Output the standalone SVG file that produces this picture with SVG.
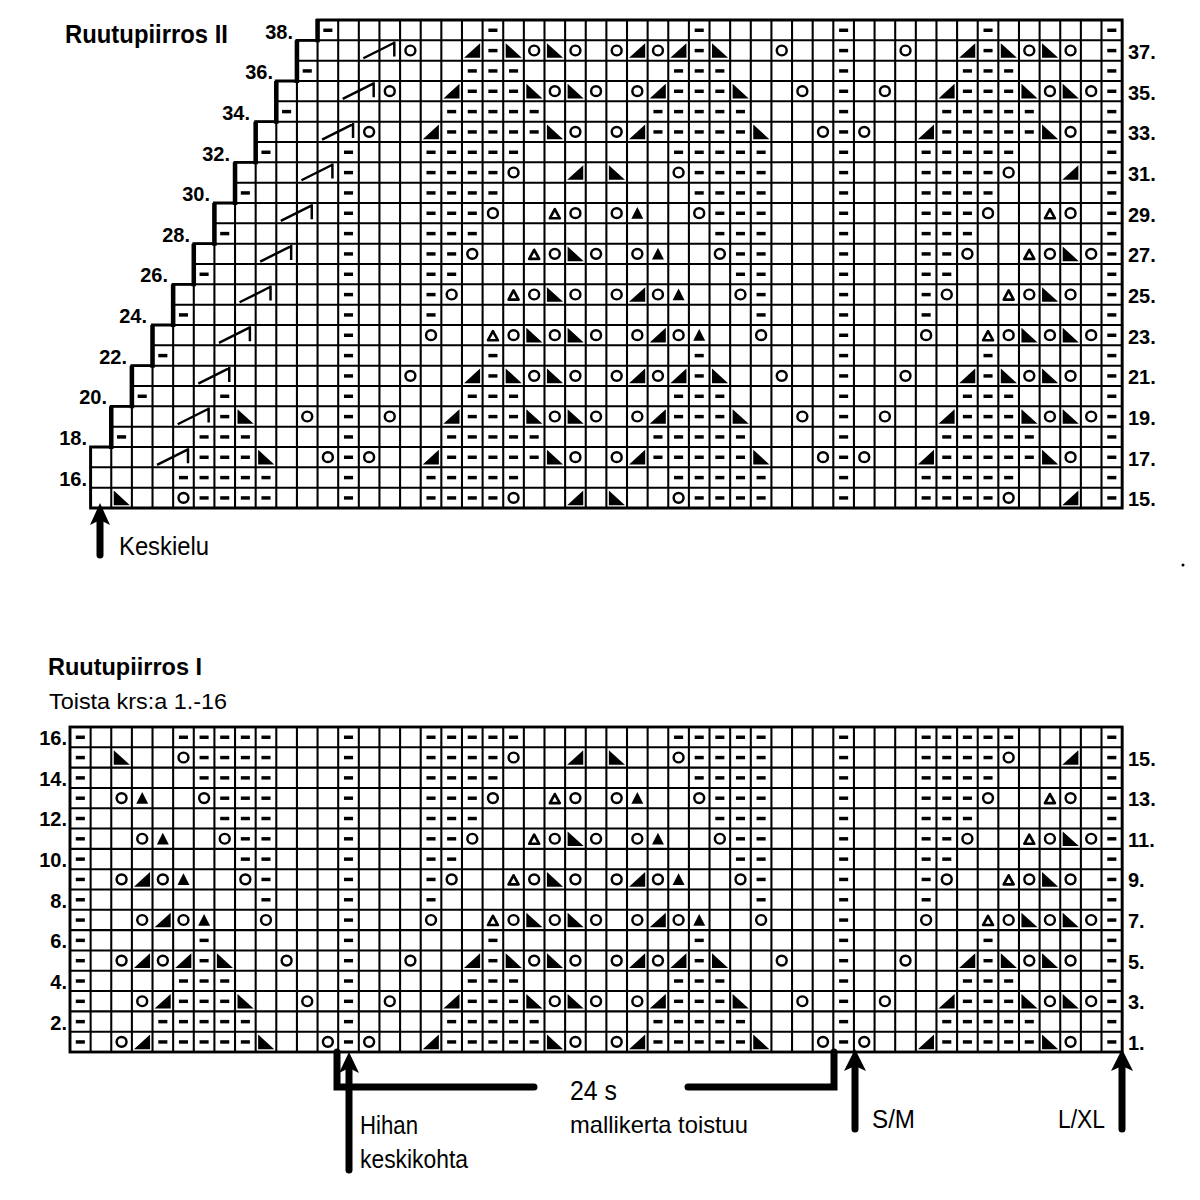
<svg xmlns="http://www.w3.org/2000/svg" width="1200" height="1200" viewBox="0 0 1200 1200">
<style>
.t{font-family:"Liberation Sans",Arial,sans-serif;fill:#000}
.b{font-weight:bold}
.n{font-family:"Liberation Sans",Arial,sans-serif;font-weight:bold;font-size:20px;fill:#000}
.gl{fill:none;stroke:#000;stroke-width:0.1}
.ob{fill:none;stroke:#000;stroke-width:0.14}
.th{fill:none;stroke:#000;stroke-width:0.22}
.ar{fill:none;stroke:#000;stroke-width:7;stroke-linecap:round}
</style>
<defs>
<rect id="d" x="0.28" y="0.42" width="0.44" height="0.17"/>
<circle id="o" cx="0.5" cy="0.5" r="0.24" fill="#fff" stroke="#000" stroke-width="0.12"/>
<path id="r" d="M0.1 0.86H0.88V0.14Z"/>
<path id="l" d="M0.12 0.14V0.86H0.9Z"/>
<path id="t" d="M0.5 0.2L0.79 0.78H0.21Z"/>
<path id="u" d="M0.5 0.3L0.74 0.75H0.26Z" fill="#fff" stroke="#000" stroke-width="0.13" stroke-linejoin="round"/>
<path id="g" d="M0.22 0.88L1.72 0.12M1.72 0.06V0.8" fill="none" stroke="#000" stroke-width="0.12"/>
<g id="d2"><use href="#d"/><use href="#d" x="1"/></g>
<g id="d3"><use href="#d2"/><use href="#d" x="2"/></g>
<g id="d4"><use href="#d3"/><use href="#d" x="3"/></g>
<g id="d5"><use href="#d4"/><use href="#d" x="4"/></g>
<g id="c8"><use href="#d"/><use href="#d" y="1"/><use href="#d" y="2"/><use href="#d" y="3"/><use href="#d" y="4"/><use href="#d" y="5"/><use href="#d" y="6"/><use href="#d" y="7"/></g>
<g id="c16"><use href="#c8"/><use href="#c8" y="8"/></g>
<g id="R1"><use href="#d" x="13"/><use href="#o" x="14"/><use href="#r" x="17"/><use href="#d5" x="18"/><use href="#l" x="23"/><use href="#o" x="24"/><use href="#o" x="26"/><use href="#r" x="27"/><use href="#d5" x="28"/><use href="#l" x="33"/><use href="#o" x="36"/></g>
<g id="R2"><use href="#d" x="13"/><use href="#d5" x="18"/><use href="#d5" x="28"/></g>
<g id="R3"><use href="#d" x="13"/><use href="#o" x="15"/><use href="#r" x="18"/><use href="#d3" x="19"/><use href="#l" x="22"/><use href="#o" x="23"/><use href="#l" x="24"/><use href="#o" x="25"/><use href="#o" x="27"/><use href="#r" x="28"/><use href="#d3" x="29"/><use href="#l" x="32"/><use href="#o" x="35"/></g>
<g id="R4"><use href="#d" x="13"/><use href="#d3" x="19"/><use href="#d3" x="29"/></g>
<g id="R5"><use href="#d" x="13"/><use href="#o" x="16"/><use href="#r" x="19"/><use href="#d" x="20"/><use href="#l" x="21"/><use href="#o" x="22"/><use href="#l" x="23"/><use href="#o" x="24"/><use href="#o" x="26"/><use href="#r" x="27"/><use href="#o" x="28"/><use href="#r" x="29"/><use href="#d" x="30"/><use href="#l" x="31"/><use href="#o" x="34"/></g>
<g id="R6"><use href="#d" x="13"/><use href="#d" x="20"/><use href="#d" x="30"/></g>
<g id="R7"><use href="#d" x="13"/><use href="#o" x="17"/><use href="#u" x="20"/><use href="#o" x="21"/><use href="#l" x="22"/><use href="#o" x="23"/><use href="#l" x="24"/><use href="#o" x="25"/><use href="#o" x="27"/><use href="#r" x="28"/><use href="#o" x="29"/><use href="#t" x="30"/><use href="#o" x="33"/></g>
<g id="R8"><use href="#d" x="13"/><use href="#d" x="17"/><use href="#d" x="33"/></g>
<g id="R9"><use href="#d" x="13"/><use href="#d" x="17"/><use href="#o" x="18"/><use href="#u" x="21"/><use href="#o" x="22"/><use href="#l" x="23"/><use href="#o" x="24"/><use href="#o" x="26"/><use href="#r" x="27"/><use href="#o" x="28"/><use href="#t" x="29"/><use href="#o" x="32"/><use href="#d" x="33"/></g>
<g id="R10"><use href="#d" x="13"/><use href="#d2" x="17"/><use href="#d2" x="32"/></g>
<g id="R11"><use href="#d" x="13"/><use href="#d2" x="17"/><use href="#o" x="19"/><use href="#u" x="22"/><use href="#o" x="23"/><use href="#l" x="24"/><use href="#o" x="25"/><use href="#o" x="27"/><use href="#t" x="28"/><use href="#o" x="31"/><use href="#d2" x="32"/></g>
<g id="R12"><use href="#d" x="13"/><use href="#d3" x="17"/><use href="#d3" x="31"/></g>
<g id="R13"><use href="#d" x="13"/><use href="#d3" x="17"/><use href="#o" x="20"/><use href="#u" x="23"/><use href="#o" x="24"/><use href="#o" x="26"/><use href="#t" x="27"/><use href="#o" x="30"/><use href="#d3" x="31"/></g>
<g id="R14"><use href="#d" x="13"/><use href="#d4" x="17"/><use href="#d4" x="30"/></g>
<g id="R15"><use href="#d" x="13"/><use href="#d4" x="17"/><use href="#o" x="21"/><use href="#r" x="24"/><use href="#l" x="26"/><use href="#o" x="29"/><use href="#d4" x="30"/></g>
<g id="R16"><use href="#d" x="13"/><use href="#d5" x="17"/><use href="#d5" x="29"/></g>
<clipPath id="cA"><rect x="2" y="-1" width="48" height="30"/></clipPath>
<clipPath id="cB"><rect x="6" y="-1" width="44" height="30"/></clipPath>
<clipPath id="cC"><rect x="7" y="-1" width="43" height="30"/></clipPath>
<clipPath id="cD"><rect x="13" y="-1" width="37" height="30"/></clipPath>
<clipPath id="cE"><rect x="14" y="-1" width="36" height="30"/></clipPath>
<clipPath id="cF"><rect x="15" y="-1" width="35" height="30"/></clipPath>
<clipPath id="cG"><rect x="16" y="-1" width="34" height="30"/></clipPath>
</defs>
<rect width="1200" height="1200" fill="#fff"/>

<!-- Chart II (top) -->
<g id="chart2" transform="translate(70 20) scale(20.63 20.3333)">
<path class="gl" d="M12 0H51M11 1H51M11 2H51M10 3H51M10 4H51M9 5H51M9 6H51M8 7H51M8 8H51M7 9H51M7 10H51M6 11H51M6 12H51M5 13H51M5 14H51M4 15H51M4 16H51M3 17H51M3 18H51M2 19H51M2 20H51M1 21H51M1 22H51M1 23H51M1 24H51"/>
<path class="gl" d="M1 21V24M2 19V24M3 17V24M4 15V24M5 13V24M6 11V24M7 9V24M8 7V24M9 5V24M10 3V24M11 1V24M12 0V24M13 0V24M14 0V24M15 0V24M16 0V24M17 0V24M18 0V24M19 0V24M20 0V24M21 0V24M22 0V24M23 0V24M24 0V24M25 0V24M26 0V24M27 0V24M28 0V24M29 0V24M30 0V24M31 0V24M32 0V24M33 0V24M34 0V24M35 0V24M36 0V24M37 0V24M38 0V24M39 0V24M40 0V24M41 0V24M42 0V24M43 0V24M44 0V24M45 0V24M46 0V24M47 0V24M48 0V24M49 0V24M50 0V24M51 0V24"/>
<path class="ob" d="M1 24V21H2V19H3V17H4V15H5V13H6V11H7V9H8V7H9V5H10V3H11V1H12V0H51V24Z"/>
<path class="th" d="M2 19V21.1M3 17V19.1M4 15V17.1M5 13V15.1M6 11V13.1M7 9V11.1M8 7V9.1M9 5V7.1M10 3V5.1M11 1V3.1M12 -0.05V1.1"/>
<g clip-path="url(#cA)">
<use href="#R15" x="-24" y="23"/><use href="#R15" y="23"/><use href="#R15" x="24" y="23"/>
<use href="#R16" x="-24" y="22"/><use href="#R16" y="22"/><use href="#R16" x="24" y="22"/>
</g>
<g clip-path="url(#cB)">
<use href="#R1" x="-24" y="21"/><use href="#R1" y="21"/><use href="#R1" x="24" y="21"/>
<use href="#R2" x="-24" y="20"/><use href="#R2" y="20"/><use href="#R2" x="24" y="20"/>
</g>
<g clip-path="url(#cC)">
<use href="#R3" x="-24" y="19"/><use href="#R3" y="19"/><use href="#R3" x="24" y="19"/>
<use href="#R4" x="-24" y="18"/><use href="#R4" y="18"/><use href="#R4" x="24" y="18"/>
</g>
<g clip-path="url(#cD)">
<use href="#R5" y="17"/><use href="#R5" x="24" y="17"/>
<use href="#R6" y="16"/><use href="#R6" x="24" y="16"/>
<use href="#R7" y="15"/><use href="#R7" x="24" y="15"/>
<use href="#R8" y="14"/><use href="#R8" x="24" y="14"/>
<use href="#R9" y="13"/><use href="#R9" x="24" y="13"/>
<use href="#R10" y="12"/><use href="#R10" x="24" y="12"/>
<use href="#R11" y="11"/><use href="#R11" x="24" y="11"/>
<use href="#R12" y="10"/><use href="#R12" x="24" y="10"/>
<use href="#R13" y="9"/><use href="#R13" x="24" y="9"/>
<use href="#R14" y="8"/><use href="#R14" x="24" y="8"/>
<use href="#R15" y="7"/><use href="#R15" x="24" y="7"/>
<use href="#R16" y="6"/><use href="#R16" x="24" y="6"/>
</g>
<g clip-path="url(#cE)">
<use href="#R1" y="5"/><use href="#R1" x="24" y="5"/>
<use href="#R2" y="4"/><use href="#R2" x="24" y="4"/>
<use href="#R4" y="2"/><use href="#R4" x="24" y="2"/>
<use href="#R6" y="0"/><use href="#R6" x="24" y="0"/>
</g>
<g clip-path="url(#cF)"><use href="#R3" y="3"/><use href="#R3" x="24" y="3"/></g>
<g clip-path="url(#cG)"><use href="#R5" y="1"/><use href="#R5" x="24" y="1"/></g>
<use href="#c16" x="50"/><use href="#c8" x="50" y="16"/>
<use href="#d" x="2" y="20"/><use href="#d" x="3" y="18"/><use href="#d" x="4" y="16"/><use href="#d" x="5" y="14"/><use href="#d" x="6" y="12"/><use href="#d" x="7" y="10"/><use href="#d" x="8" y="8"/><use href="#d" x="9" y="6"/><use href="#d" x="10" y="4"/><use href="#d" x="11" y="2"/><use href="#d" x="12" y="0"/>
<use href="#g" x="4" y="21"/><use href="#g" x="5" y="19"/><use href="#g" x="6" y="17"/><use href="#g" x="7" y="15"/><use href="#g" x="8" y="13"/><use href="#g" x="9" y="11"/><use href="#g" x="10" y="9"/><use href="#g" x="11" y="7"/><use href="#g" x="12" y="5"/><use href="#g" x="13" y="3"/><use href="#g" x="14" y="1"/>
</g>

<!-- Chart I (bottom) -->
<g id="chart1" transform="translate(70 727) scale(20.63 20.3125)">
<path class="gl" d="M0 0H51M0 1H51M0 2H51M0 3H51M0 4H51M0 5H51M0 6H51M0 7H51M0 8H51M0 9H51M0 10H51M0 11H51M0 12H51M0 13H51M0 14H51M0 15H51M0 16H51"/>
<path class="gl" d="M0 0V16M1 0V16M2 0V16M3 0V16M4 0V16M5 0V16M6 0V16M7 0V16M8 0V16M9 0V16M10 0V16M11 0V16M12 0V16M13 0V16M14 0V16M15 0V16M16 0V16M17 0V16M18 0V16M19 0V16M20 0V16M21 0V16M22 0V16M23 0V16M24 0V16M25 0V16M26 0V16M27 0V16M28 0V16M29 0V16M30 0V16M31 0V16M32 0V16M33 0V16M34 0V16M35 0V16M36 0V16M37 0V16M38 0V16M39 0V16M40 0V16M41 0V16M42 0V16M43 0V16M44 0V16M45 0V16M46 0V16M47 0V16M48 0V16M49 0V16M50 0V16M51 0V16"/>
<rect class="ob" x="0" y="0" width="51" height="16"/>
<g clip-path="url(#cA)">
<use href="#R1" x="-24" y="15"/><use href="#R1" y="15"/><use href="#R1" x="24" y="15"/>
<use href="#R2" x="-24" y="14"/><use href="#R2" y="14"/><use href="#R2" x="24" y="14"/>
<use href="#R3" x="-24" y="13"/><use href="#R3" y="13"/><use href="#R3" x="24" y="13"/>
<use href="#R4" x="-24" y="12"/><use href="#R4" y="12"/><use href="#R4" x="24" y="12"/>
<use href="#R5" x="-24" y="11"/><use href="#R5" y="11"/><use href="#R5" x="24" y="11"/>
<use href="#R6" x="-24" y="10"/><use href="#R6" y="10"/><use href="#R6" x="24" y="10"/>
<use href="#R7" x="-24" y="9"/><use href="#R7" y="9"/><use href="#R7" x="24" y="9"/>
<use href="#R8" x="-24" y="8"/><use href="#R8" y="8"/><use href="#R8" x="24" y="8"/>
<use href="#R9" x="-24" y="7"/><use href="#R9" y="7"/><use href="#R9" x="24" y="7"/>
<use href="#R10" x="-24" y="6"/><use href="#R10" y="6"/><use href="#R10" x="24" y="6"/>
<use href="#R11" x="-24" y="5"/><use href="#R11" y="5"/><use href="#R11" x="24" y="5"/>
<use href="#R12" x="-24" y="4"/><use href="#R12" y="4"/><use href="#R12" x="24" y="4"/>
<use href="#R13" x="-24" y="3"/><use href="#R13" y="3"/><use href="#R13" x="24" y="3"/>
<use href="#R14" x="-24" y="2"/><use href="#R14" y="2"/><use href="#R14" x="24" y="2"/>
<use href="#R15" x="-24" y="1"/><use href="#R15" y="1"/><use href="#R15" x="24" y="1"/>
<use href="#R16" x="-24" y="0"/><use href="#R16" y="0"/><use href="#R16" x="24" y="0"/>
</g>
<use href="#c16" x="0"/><use href="#c16" x="50"/>
</g>

<!-- Labels -->
<g id="labels2">
<text class="t b" x="65" y="43" font-size="26" textLength="163" lengthAdjust="spacingAndGlyphs">Ruutupiirros II</text>
<g class="n" text-anchor="end">
<text x="293" y="39">38.</text><text x="273" y="79">36.</text><text x="250" y="120">34.</text><text x="230" y="161">32.</text><text x="210" y="201">30.</text><text x="190" y="242">28.</text><text x="168" y="282">26.</text><text x="147" y="323">24.</text><text x="127" y="364">22.</text><text x="107" y="404">20.</text><text x="87" y="445">18.</text><text x="87" y="486">16.</text>
</g>
<g class="n">
<text x="1128" y="59">37.</text><text x="1128" y="100">35.</text><text x="1128" y="140">33.</text><text x="1128" y="181">31.</text><text x="1128" y="222">29.</text><text x="1128" y="262">27.</text><text x="1128" y="303">25.</text><text x="1128" y="344">23.</text><text x="1128" y="384">21.</text><text x="1128" y="425">19.</text><text x="1128" y="466">17.</text><text x="1128" y="506">15.</text>
</g>
<text class="t" x="119" y="555" font-size="26" textLength="90" lengthAdjust="spacingAndGlyphs">Keskielu</text>
</g>

<g id="labels1">
<text class="t b" x="48" y="675" font-size="23.5" textLength="154" lengthAdjust="spacingAndGlyphs">Ruutupiirros I</text>
<text class="t" x="49" y="709" font-size="22" textLength="178" lengthAdjust="spacingAndGlyphs">Toista krs:a 1.-16</text>
<g class="n" text-anchor="end">
<text x="67" y="745">16.</text><text x="67" y="786">14.</text><text x="67" y="826">12.</text><text x="67" y="867">10.</text><text x="67" y="908">8.</text><text x="67" y="948">6.</text><text x="67" y="989">4.</text><text x="67" y="1030">2.</text>
</g>
<g class="n">
<text x="1128" y="766">15.</text><text x="1128" y="806">13.</text><text x="1128" y="847">11.</text><text x="1128" y="887">9.</text><text x="1128" y="928">7.</text><text x="1128" y="969">5.</text><text x="1128" y="1009">3.</text><text x="1128" y="1050">1.</text>
</g>
<text class="t" x="570" y="1100" font-size="28" textLength="47" lengthAdjust="spacingAndGlyphs">24 s</text>
<text class="t" x="570" y="1133" font-size="24" textLength="178" lengthAdjust="spacingAndGlyphs">mallikerta toistuu</text>
<text class="t" x="360" y="1134" font-size="25" textLength="58" lengthAdjust="spacingAndGlyphs">Hihan</text>
<text class="t" x="360" y="1168" font-size="25" textLength="108" lengthAdjust="spacingAndGlyphs">keskikohta</text>
<text class="t" x="872" y="1128" font-size="26" textLength="43" lengthAdjust="spacingAndGlyphs">S/M</text>
<text class="t" x="1058" y="1128" font-size="26" textLength="47" lengthAdjust="spacingAndGlyphs">L/XL</text>
</g>

<!-- Arrows / brackets -->
<g id="connectors">
<path class="ar" d="M100 518V555"/>
<path d="M100 503L110 525L100 520L90 525Z"/>
<path class="ar" d="M337 1052V1087H534"/>
<path class="ar" d="M688 1087H834V1052"/>
<path class="ar" d="M349 1066V1170"/>
<path d="M349 1052L359 1073L349 1068L339 1073Z"/>
<path class="ar" d="M855 1064V1129"/>
<path d="M855 1049L866 1071L855 1066L844 1071Z"/>
<path class="ar" d="M1122 1064V1129"/>
<path d="M1122 1049L1133 1071L1122 1066L1111 1071Z"/>
</g>
<circle cx="1183" cy="565" r="1.5"/>
</svg>
